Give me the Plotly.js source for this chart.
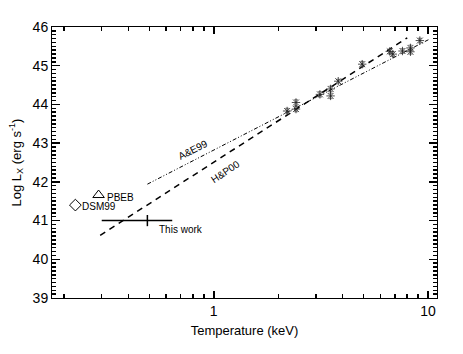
<!DOCTYPE html>
<html>
<head>
<meta charset="utf-8">
<script src="https://cdn.plot.ly/plotly-3.0.1.min.js"></script>
<style>
  html, body { margin: 0; padding: 0; background: #ffffff; }
  #chart { width: 463px; height: 354px; }
</style>
</head>
<body>
<div id="chart"></div>
<script>
// cluster sample (asterisks)
const clusterT = [2.20, 2.42, 2.42, 3.13, 3.51, 3.51, 3.81, 4.93, 6.63, 6.85, 7.60, 8.28, 8.28, 9.16];
const clusterL = [43.83, 44.05, 43.88, 44.26, 44.40, 44.22, 44.60, 45.04, 45.37, 45.30, 45.38, 45.46, 45.36, 45.65];
const clusterErr = [0.07, 0.07, 0.07, 0.07, 0.07, 0.07, 0.05, 0.07, 0.06, 0.06, 0.06, 0.07, 0.06, 0.06];

// this work
const thisT = [0.49];
const thisL = [41.0];
const thisTplus = [0.15];
const thisTminus = [0.19];

// literature points
const pbebT = [0.29];
const pbebL = [41.66];
const dsmT = [0.226];
const dsmL = [41.40];

// relations (end points)
const hpT = [0.295, 8.0];
const hpL = [40.62, 45.72];
const aeT = [0.49, 10.2];
const aeL = [41.94, 45.69];

const xTicks = [1, 10];
const xTickText = ["1", "10"];
const xMinor = [0.2, 0.3, 0.4, 0.5, 0.6, 0.7, 0.8, 0.9, 2, 3, 4, 5, 6, 7, 8, 9];

const FONT = "Liberation Sans, Arial, sans-serif";

const traces = [
  {
    x: hpT, y: hpL, mode: "lines", showlegend: false, hoverinfo: "skip",
    line: { color: "#000", width: 1.5, dash: "6px,5px" },
  },
  {
    x: aeT, y: aeL, mode: "lines", showlegend: false, hoverinfo: "skip",
    line: { color: "#000", width: 1, dash: "4px,2px,1px,2px,1px,2px" },
  },
  {
    x: clusterT, y: clusterL, mode: "markers", showlegend: false,
    marker: { symbol: "asterisk-open", size: 7, color: "#222", line: { color: "#222", width: 0.8 } },
    error_y: { type: "data", array: clusterErr, color: "#666", thickness: 0.8, width: 2 },
  },
  {
    x: thisT, y: thisL, mode: "markers", showlegend: false,
    marker: { symbol: "line-ns-open", size: 8, color: "#000", line: { color: "#000", width: 1.5 } },
    error_x: { type: "data", symmetric: false, array: thisTplus, arrayminus: thisTminus, color: "#000", thickness: 1.5, width: 0 },
  },
  {
    x: pbebT, y: pbebL, mode: "markers", showlegend: false,
    marker: { symbol: "triangle-up-open", size: 10, color: "#000", line: { color: "#000", width: 1 } },
  },
  {
    x: dsmT, y: dsmL, mode: "markers", showlegend: false,
    marker: { symbol: "diamond-open", size: 9, color: "#000", line: { color: "#000", width: 1 } },
  },
];

function label(text, t, l, size, angle, anchor) {
  return {
    text: text, x: Math.log10(t), y: l, xref: "x", yref: "y",
    showarrow: false, textangle: angle || 0, xanchor: anchor || "left",
    font: { family: FONT, size: size, color: "#000" },
  };
}

const layout = {
  width: 463,
  height: 354,
  paper_bgcolor: "#fff",
  plot_bgcolor: "#fff",
  margin: { l: 52, r: 26, t: 27, b: 56 },
  font: { family: FONT, size: 13, color: "#000" },
  xaxis: {
    type: "log",
    range: [-0.755, 1.042],
    tickmode: "array",
    tickvals: xTicks,
    ticktext: xTickText,
    ticks: "inside",
    ticklen: 7,
    tickwidth: 1.5,
    tickcolor: "#000",
    showline: true,
    linecolor: "#000",
    mirror: "ticks",
    showgrid: false,
    zeroline: false,
    tickfont: { size: 14 },
    minor: { tickmode: "array", tickvals: xMinor, ticks: "inside", ticklen: 4, tickwidth: 1.5, tickcolor: "#000", showgrid: false },
    title: { text: "Temperature (keV)", font: { family: FONT, size: 13 }, standoff: 8 },
  },
  yaxis: {
    range: [39, 46],
    dtick: 1,
    ticks: "inside",
    ticklen: 8,
    tickwidth: 1.5,
    tickcolor: "#000",
    showline: true,
    linecolor: "#000",
    mirror: "ticks",
    showgrid: false,
    zeroline: false,
    tickfont: { size: 14 },
    minor: { dtick: 0.1, ticks: "inside", ticklen: 4, tickwidth: 1.5, tickcolor: "#000", showgrid: false },
    title: { text: "Log L<sub>X</sub> (erg s<sup>-1</sup>)", font: { family: FONT, size: 13 }, standoff: 8 },
  },
  annotations: [
    label("PBEB", 0.311, 41.59, 10),
    label("DSM99", 0.2385, 41.36, 10),
    label("This work", 0.544, 40.78, 10),
    label("A&E99", 0.803, 42.84, 10, -27, "center"),
    label("H&P00", 1.134, 42.28, 10, -34, "center"),
  ],
};

Plotly.newPlot("chart", traces, layout, { displayModeBar: false, staticPlot: true });
</script>
</body>
</html>
